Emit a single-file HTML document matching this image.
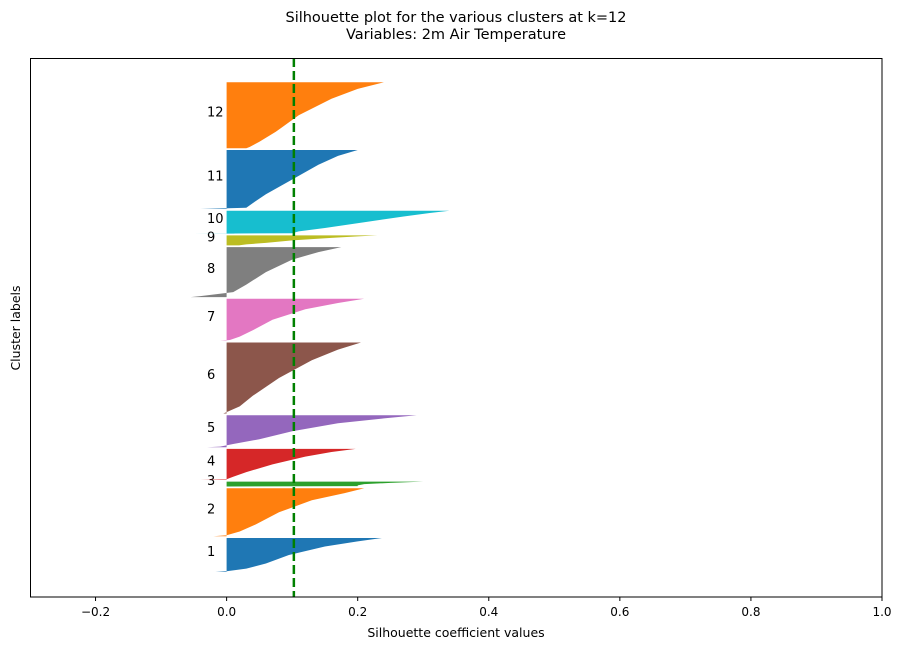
<!DOCTYPE html>
<html><head><meta charset="utf-8"><style>
body{margin:0;background:#fff;font-family:"Liberation Sans","DejaVu Sans",sans-serif;}
svg text{font-family:"DejaVu Sans","Liberation Sans",sans-serif;}
</style></head><body>
<svg id="chart" width="903" height="650" xmlns="http://www.w3.org/2000/svg">
<text x="456" y="22" text-anchor="middle" font-size="14.5">Silhouette plot for the various clusters at k=12</text>
<text x="456" y="39" text-anchor="middle" font-size="14.5">Variables: 2m Air Temperature</text>
<g id="marks"></g>
<rect x="30.5" y="58.5" width="851.5" height="538.5" fill="none" stroke="#000" stroke-width="1"/>
<g id="xaxis"></g>
<text x="456" y="637" text-anchor="middle" font-size="12.5">Silhouette coefficient values</text>
<text transform="translate(20,328) rotate(-90)" text-anchor="middle" font-size="12.5">Cluster labels</text>
</svg>
<script>
const clusterLabels = ["1","2","3","4","5","6","7","8","9","10","11","12"];
const clusterSizes = [34,48,5,31,32,71,42,50,10,23,59,66];
const quantileFractions = [0,0.02,0.1,0.25,0.5,0.75,0.9,1];
const c1 = [-0.017,0.0,0.03,0.06,0.095,0.15,0.2,0.237];
const c2 = [-0.02,0.0,0.02,0.045,0.08,0.13,0.18,0.21];
const c3 = [-0.03,0.0,0.2,0.2,0.21,0.25,0.28,0.3];
const c4 = [-0.04,0.0,0.01,0.03,0.07,0.12,0.16,0.197];
const c5 = [-0.03,-0.01,0.01,0.05,0.1,0.17,0.24,0.29];
const c6 = [-0.005,0.0,0.02,0.04,0.08,0.13,0.17,0.205];
const c7 = [-0.01,0.005,0.02,0.04,0.07,0.12,0.17,0.21];
const c8 = [-0.055,-0.04,0.01,0.03,0.06,0.1,0.14,0.175];
const c9 = [-0.13,0.02,0.03,0.06,0.1,0.16,0.2,0.23];
const c10 = [-0.05,0.1,0.11,0.15,0.21,0.27,0.31,0.34];
const c11 = [-0.04,0.03,0.04,0.06,0.1,0.14,0.17,0.2];
const c12 = [0.03,0.035,0.05,0.075,0.11,0.16,0.2,0.24];
const clusterValues = [c1,c2,c3,c4,c5,c6,c7,c8,c9,c10,c11,c12];
const avgScore = 0.1026;
const xTicks = [-0.2,0,0.2,0.4,0.6,0.8,1.0];
const xTickLabels = ["\u22120.2","0.0","0.2","0.4","0.6","0.8","1.0"];
const colors = ["#1f77b4","#ff7f0e","#2ca02c","#d62728","#9467bd","#8c564b","#e377c2","#7f7f7f","#bcbd22","#17becf","#1f77b4","#ff7f0e"];
const xMin=-0.3,xMax=1.0,yMax=539,gap=1.7,yStart=25;
const X=v=>30+(v-xMin)/(xMax-xMin)*852;
const Y=v=>597-v/yMax*539;
const NS="http://www.w3.org/2000/svg";
const marks=document.getElementById('marks');
let yl=yStart;
clusterSizes.forEach((n,i)=>{
  const vals=clusterValues[i];
  let pts=[];
  for(let k=0;k<vals.length;k++){
    const yy=yl+quantileFractions[k]*n;
    pts.push(X(vals[k]).toFixed(1)+","+Y(yy).toFixed(1));
  }
  pts.push(X(0).toFixed(1)+","+Y(yl+n).toFixed(1));
  pts.push(X(0).toFixed(1)+","+Y(yl).toFixed(1));
  const p=document.createElementNS(NS,'polygon');
  p.setAttribute('points',pts.join(' '));
  p.setAttribute('fill',colors[i]);
  
  
  marks.appendChild(p);
  const t=document.createElementNS(NS,'text');
  t.setAttribute('x',X(-0.03));
  t.setAttribute('y',Y(yl+n/2)+1);
  t.setAttribute('font-size','13');
  t.textContent=clusterLabels[i];
  
  
  marks.appendChild(t);
  yl+=n+gap;
});
const avg=document.createElementNS(NS,'line');
avg.setAttribute('x1',X(avgScore));avg.setAttribute('x2',X(avgScore));
avg.setAttribute('y1',58);avg.setAttribute('y2',597);
avg.setAttribute('stroke','#008000');avg.setAttribute('stroke-width','2.5');
avg.setAttribute('stroke-dasharray','9,4');


marks.appendChild(avg);
const xa=document.getElementById('xaxis');
xTicks.forEach((v,i)=>{
  const l=document.createElementNS(NS,'line');
  l.setAttribute('x1',X(v));l.setAttribute('x2',X(v));l.setAttribute('y1',597);l.setAttribute('y2',601);
  l.setAttribute('stroke','#000');
  
  
  xa.appendChild(l);
  const t=document.createElementNS(NS,'text');
  t.setAttribute('x',X(v));t.setAttribute('y',616);t.setAttribute('text-anchor','middle');t.setAttribute('font-size','12');
  t.textContent=xTickLabels[i];
  
  
  xa.appendChild(t);
});
</script>
</body></html>
